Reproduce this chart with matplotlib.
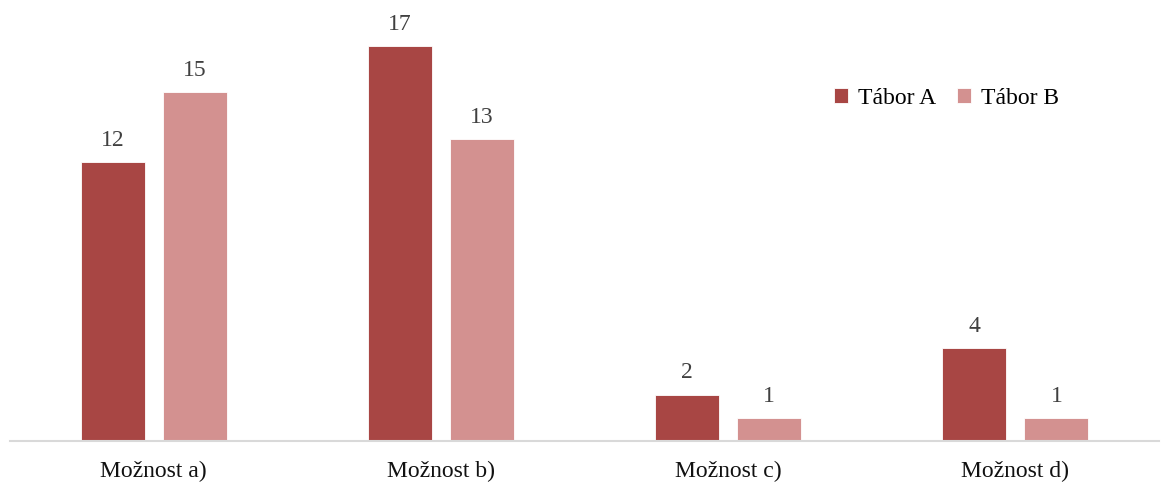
import matplotlib
matplotlib.use("Agg")
import matplotlib.pyplot as plt
import numpy as np

categories = ["Možnost a)", "Možnost b)", "Možnost c)", "Možnost d)"]
series_names = ["Tábor A", "Tábor B"]
tabor_a = [12, 17, 2, 4]
tabor_b = [15, 13, 1, 1]
colors = ["#A84644", "#D39190"]

plt.rcParams["font.family"] = ["Liberation Serif", "DejaVu Serif"]

fig = plt.figure(figsize=(11.61, 4.84), dpi=100)
ax = fig.add_axes([10 / 1161, 43 / 484, 1149 / 1161, 441 / 484])

x = np.arange(len(categories))
width = 0.223
offset = 0.143

for vals, name, col, sign in [(tabor_a, series_names[0], colors[0], -1),
                              (tabor_b, series_names[1], colors[1], 1)]:
    bars = ax.bar(x + sign * offset, vals, width, color=col, label=name,
                  edgecolor="white", linewidth=0.6)
    for b, v in zip(bars, vals):
        ax.annotate(f"{v}", (b.get_x() + b.get_width() / 2, v),
                    xytext=(0, 8), textcoords="offset points",
                    ha="center", va="bottom", fontsize=17, color="#404040")

ax.set_xlim(-0.5, len(categories) - 0.5)
ax.set_ylim(0, 18.98)
ax.set_xticks(x)
ax.set_xticklabels(categories, fontsize=17, color="#111111")
ax.tick_params(axis="x", length=0, pad=14)
ax.set_yticks([])
for s in ["top", "right", "left"]:
    ax.spines[s].set_visible(False)
ax.spines["bottom"].set_color("#D9D9D9")
ax.spines["bottom"].set_linewidth(1.5)

leg = ax.legend(loc="upper left", bbox_to_anchor=(824 / 1149, 1 - 88 / 441),
                ncol=2, frameon=False, fontsize=17, handlelength=0.6,
                handleheight=0.6, handletextpad=0.4, columnspacing=0.9,
                borderaxespad=0, borderpad=0)

fig.savefig("out.png", dpi=100)
